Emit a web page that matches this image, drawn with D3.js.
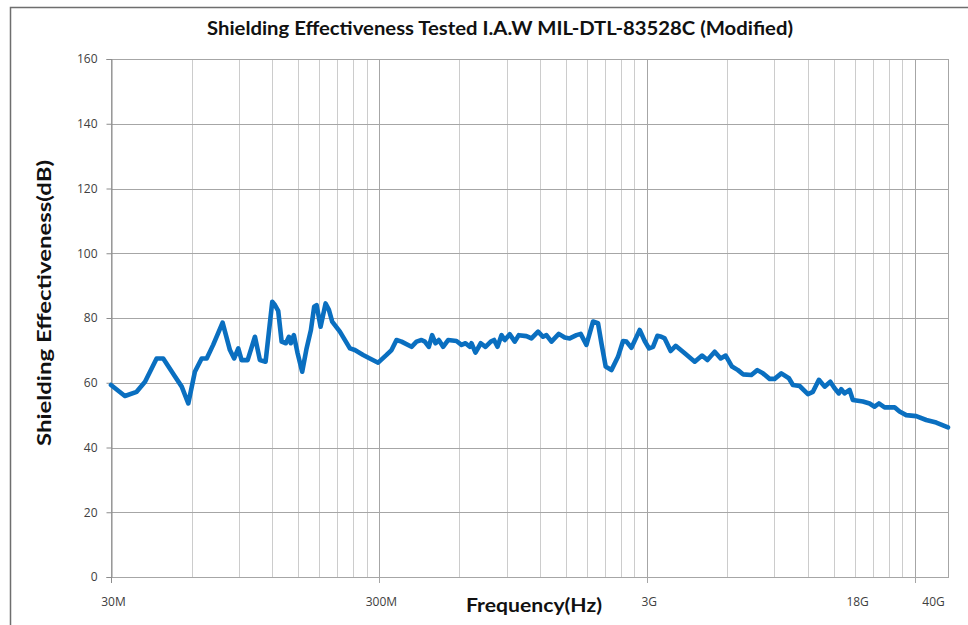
<!DOCTYPE html>
<html>
<head>
<meta charset="utf-8">
<script src="https://cdn.jsdelivr.net/npm/d3@7/dist/d3.min.js"></script>
<style>
  html, body { margin: 0; padding: 0; background: #fff; }
  svg { display: block; }
</style>
</head>
<body>
<svg id="chart" width="968" height="625"></svg>
<script>
// ---- data (frequency in MHz, shielding effectiveness in dB) ----
const freqMHz = [30, 33.8, 37.4, 40.2, 44.4, 47.0, 52.0, 55.1, 58.3, 61.7, 65.4, 68.3, 72.2, 78.3, 83.4, 86.5, 89.6, 92.2, 97.1, 103.4, 107.9, 113.3, 120.0, 122.8, 126.3,
  130.1, 134.9, 138.5, 140.8, 144.5, 149.2, 155.2, 161.2, 167.3, 172.1, 175.7, 181.8, 189.8, 195.3, 200.9, 214.6, 233.9, 244.1, 262.1, 277.7, 298.2,
  320.5, 334.6, 349.2, 364.6, 397.3, 414.8, 432.9, 445.4, 461.0, 474.3, 488.3, 502.3, 521.2, 544.1, 584.8, 610.5, 631.9, 655.7, 665.3, 688.5, 720.6,
  750.3, 785.3, 807.8, 831.8, 860.9, 885.6, 924.5, 965.2, 998.9, 1067, 1114, 1179, 1231, 1267, 1323, 1409, 1483, 1548, 1640, 1701, 1787, 1891, 1974,
  2033, 2109, 2215, 2344, 2448, 2521, 2631, 2825, 2949, 3060, 3168, 3289, 3404, 3502, 3687, 3849, 4161, 4534, 4828, 5056, 5383, 5667, 5916, 6246,
  6575, 6865, 7377, 7767, 8149, 8632, 9011, 9545, 10188, 10545, 11170, 11996, 12522, 13186, 13849, 14541, 15087, 15654, 15981, 16440, 17163, 17656,
  19243, 20382, 21274, 22080, 23189, 25266, 26370, 27933, 30438, 33174, 36149, 40000];
const seDb = [59.3, 55.9, 57.2, 60.3, 67.5, 67.5, 61.9, 58.8, 53.6, 63.4, 67.5, 67.5, 71.7, 78.6, 70.1, 67.5, 70.6, 67.0, 67.0, 74.2, 67.0, 66.5, 85.0, 84.0, 82.2,
  72.7, 72.2, 74.2, 72.2, 74.7, 69.1, 63.4, 70.6, 76.3, 83.5, 84.0, 77.3, 84.5, 82.5, 78.9, 75.8, 70.6, 70.1, 68.6, 67.5, 66.2,
  68.6, 70.1, 73.2, 72.7, 71.1, 72.7, 73.2, 72.7, 71.1, 74.7, 72.2, 73.2, 71.1, 73.2, 72.9, 71.7, 72.2, 71.1, 72.2, 69.3, 72.2,
  71.1, 72.7, 73.2, 71.1, 74.7, 73.2, 75.0, 72.7, 74.7, 74.4, 73.7, 75.8, 74.2, 74.7, 72.7, 75.1, 74.0, 73.7, 74.7, 75.1, 71.7, 78.9, 78.4,
  72.2, 65.0, 63.9, 68.0, 72.9, 72.7, 70.8, 76.3, 72.9, 70.6, 71.1, 74.5, 74.2, 73.7, 69.8, 71.4, 69.1, 66.5, 68.4, 67.0, 69.6, 67.5, 68.4, 65.0,
  63.9, 62.6, 62.4, 63.9, 62.9, 61.2, 61.2, 62.9, 61.4, 59.3, 59.0, 56.5, 57.2, 60.9, 58.8, 60.3, 58.3, 56.7, 58.0, 56.7, 57.8, 54.7,
  54.2, 53.6, 52.6, 53.6, 52.4, 52.4, 51.1, 50.0, 49.7, 48.5, 47.7, 46.2];

const yTickValues = [0, 20, 40, 60, 80, 100, 120, 140, 160];
const xTickValues = [30, 300, 3000, 18000, 40000];
const xTickLabels = ["30M", "300M", "3G", "18G", "40G"];
const majorGridFreqs = [300, 3000, 30000];
const gridMultipliers = [1, 2, 3, 4, 5, 6, 7, 8, 9];
const gridDecades = [30, 300, 3000, 30000];

const titleText = "Shielding Effectiveness Tested I.A.W MIL-DTL-83528C (Modified)";
const xTitle = "Frequency(Hz)";
const yTitle = "Shielding Effectiveness(dB)";

// ---- layout ----
const svg = d3.select("#chart");
const L = 111, R = 948, T = 59, B = 577;
const x = d3.scaleLog().domain([30, 40000]).range([L, R]);
const y = d3.scaleLinear().domain([0, 160]).range([B, T]);

// outer chart frame (only left & top visible)
svg.append("rect").attr("x", 10.5).attr("y", 7.5).attr("width", 1200).attr("height", 1200)
  .attr("fill", "#fff").attr("stroke", "#6e6e6e").attr("stroke-width", 1.5);

// vertical grid lines
const gridFreqs = [];
gridDecades.forEach(d => gridMultipliers.forEach(m => {
  const f = d * m;
  if (f > 30 && f < 40000) gridFreqs.push(f);
}));
const g = svg.append("g");
g.selectAll("line.vg").data(gridFreqs).join("line")
  .attr("x1", d => Math.round(x(d)) + 0.5).attr("x2", d => Math.round(x(d)) + 0.5)
  .attr("y1", T).attr("y2", d => majorGridFreqs.includes(d) ? B + 6 : B)
  .attr("stroke", d => majorGridFreqs.includes(d) ? "#a6a6a6" : "#cccccc")
  .attr("stroke-width", 1);

// horizontal grid lines
g.selectAll("line.hg").data(yTickValues).join("line")
  .attr("x1", L).attr("x2", R)
  .attr("y1", d => Math.round(y(d)) + 0.5).attr("y2", d => Math.round(y(d)) + 0.5)
  .attr("stroke", "#a6a6a6").attr("stroke-width", 1);

// plot border
svg.append("rect").attr("x", L + 0.5).attr("y", T + 0.5).attr("width", R - L).attr("height", B - T)
  .attr("fill", "none").attr("stroke", "#a6a6a6");

// y axis
const yAxis = d3.axisLeft(y).tickValues(yTickValues).tickSize(5).tickPadding(9).tickFormat(d3.format("d"));
const ya = svg.append("g").attr("transform", `translate(${L + 0.5},0)`).call(yAxis);
ya.select(".domain").attr("stroke", "#8c8c8c");
ya.selectAll(".tick line").attr("stroke", "#8c8c8c");
ya.selectAll(".tick text").attr("fill", "#404040").style("font-family", "'Open Sans', sans-serif").style("font-size", "12px");

// x axis
const xAxis = d3.axisBottom(x).tickValues(xTickValues).tickSize(0).tickPadding(20)
  .tickFormat((d, i) => xTickLabels[i]);
const xa = svg.append("g").attr("transform", `translate(0,${B})`).call(xAxis);
xa.select(".domain").remove();
xa.selectAll(".tick line").remove();
xa.selectAll(".tick text").attr("fill", "#404040").style("font-family", "'Open Sans', sans-serif").style("font-size", "12px")
  .attr("dx", (d, i) => i === xTickValues.length - 1 ? -15 : 2);
svg.append("line").attr("x1", L + 0.5).attr("x2", L + 0.5).attr("y1", B).attr("y2", B + 6).attr("stroke", "#8c8c8c");

// data line
const line = d3.line().x((d, i) => x(freqMHz[i])).y(d => y(d));
svg.append("path").datum(seDb).attr("d", line)
  .attr("fill", "none").attr("stroke", "#0a6fc0").attr("stroke-width", 4.6)
  .attr("stroke-linejoin", "round").attr("stroke-linecap", "round");

// titles
svg.append("text").attr("x", 500).attr("y", 35).attr("text-anchor", "middle")
  .style("font-family", "Lato, 'Open Sans', sans-serif").style("font-weight", "bold").style("font-size", "18px")
  .attr("fill", "#111").attr("textLength", 586).attr("lengthAdjust", "spacingAndGlyphs").text(titleText);

svg.append("text").attr("x", 534).attr("y", 612).attr("text-anchor", "middle")
  .style("font-family", "Lato, 'Open Sans', sans-serif").style("font-weight", "bold").style("font-size", "18px")
  .attr("fill", "#111").attr("textLength", 136).attr("lengthAdjust", "spacingAndGlyphs").text(xTitle);

svg.append("text").attr("transform", "translate(51,303) rotate(-90)").attr("text-anchor", "middle")
  .style("font-family", "Lato, 'Open Sans', sans-serif").style("font-weight", "bold").style("font-size", "18px")
  .attr("fill", "#111").attr("textLength", 286).attr("lengthAdjust", "spacingAndGlyphs").text(yTitle);
</script>
</body>
</html>
